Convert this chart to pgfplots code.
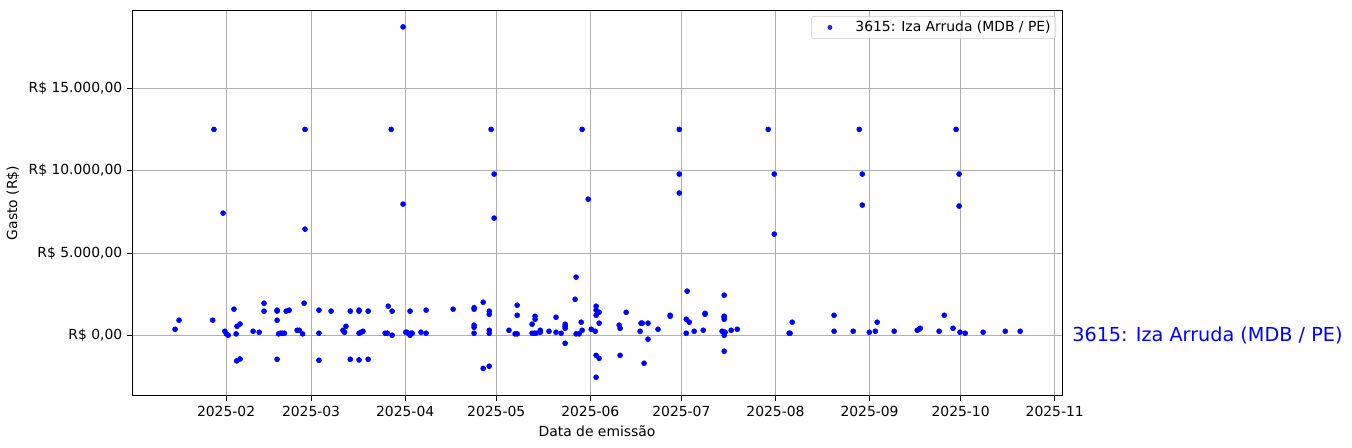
\documentclass[border=0pt]{standalone}
\usepackage{fontspec}
\setmainfont{DejaVu Sans}
\usepackage{pgfplots}
\pgfplotsset{compat=1.18}
\definecolor{gridgray}{HTML}{B0B0B0}
\definecolor{legframe}{HTML}{CCCCCC}
\definecolor{ptblue}{RGB}{0,0,255}
\begin{document}
\begin{tikzpicture}
\begin{axis}[
  name=ax,
  scale only axis,
  width=669.6pt, height=277.9pt,
  xmin=0, xmax=306.4, ymin=-3665, ymax=19739,
  axis line style={line width=0.7pt, black},
  every tick/.style={line width=0.7pt, black},
  tick align=outside, major tick length=3.5pt,
  tick pos=left,
  xtick={31,59,90,120,151,181,212,243,273,304},
  xticklabels={2025-02,2025-03,2025-04,2025-05,2025-06,2025-07,2025-08,2025-09,2025-10,2025-11},
  ytick={0,5000,10000,15000},
  yticklabels={{R\$ 0,00},{R\$ 5.000,00},{R\$ 10.000,00},{R\$ 15.000,00}},
  grid=major, major grid style={line width=0.8pt, color=gridgray},
  xlabel={Data de emissão}, ylabel={Gasto (R\$)},
  tick label style={font=\fontsize{10}{12}\selectfont},
  label style={font=\fontsize{10}{12}\selectfont},
  clip=false,
  legend style={at={(1,1)}, xshift=-4.3pt, yshift=-4.3pt, anchor=north east,
    draw=legframe, rounded corners=2pt, fill=white, fill opacity=0.8, text opacity=1,
    font=\fontsize{10}{12}\selectfont, inner xsep=1.7pt, inner ysep=1.5pt},
  legend cell align=left,
  legend image code/.code={\path (0pt,0pt) (27.7pt,0pt);
    \draw[only marks, mark=*, mark size=1.5pt, mark options={draw=none, fill=ptblue}] plot coordinates {(11.5pt,0pt)};},
]
\addplot[only marks, mark=*, mark size=1.8pt, color=ptblue, mark options={draw=none, fill=ptblue}] table[row sep=\\] {
x y\\
89.3 18714\\ 27.0 12500\\ 57.0 12500\\ 85.4 12500\\ 30.0 7420\\ 57.0 6450\\ 89.3 7970\\
118.3 12500\\ 119.3 9790\\ 119.3 7120\\ 148.3 12500\\ 150.3 8270\\ 146.3 3540\\
180.3 12500\\ 180.3 9790\\ 180.3 8640\\ 209.6 12500\\ 211.6 9790\\ 211.6 6150\\
239.6 12500\\ 240.6 9790\\ 240.6 7910\\ 271.5 12500\\ 272.5 9790\\ 272.5 7850\\
14.2 380\\ 15.5 930\\ 26.6 930\\ 30.6 260\\ 31.1 100\\ 31.7 20\\ 33.6 1600\\ 34.3 100\\
34.6 560\\ 35.6 700\\ 34.5 -1540\\ 35.6 -1420\\ 39.9 260\\ 41.9 200\\ 43.5 1960\\ 43.5 1480\\
47.8 930\\ 47.8 1540\\ 47.8 1480\\ 47.8 -1440\\ 48.3 100\\ 48.9 140\\ 49.5 140\\ 50.2 140\\
50.8 1480\\ 51.8 1540\\ 54.4 320\\ 55.1 320\\ 56.2 100\\ 56.7 1960\\ 61.6 1540\\ 61.6 140\\
61.6 -1500\\ 65.6 1480\\ 69.5 320\\ 70.0 200\\ 70.5 560\\ 71.9 1480\\ 71.9 -1440\\
74.8 1540\\ 74.8 1480\\ 74.8 140\\ 75.5 200\\ 76.1 260\\ 74.8 -1480\\ 77.8 1480\\ 77.8 -1440\\
83.4 140\\ 84.1 140\\ 84.4 1780\\ 85.7 1480\\ 85.7 20\\ 90.2 200\\ 90.6 200\\ 91.0 140\\
91.9 140\\ 92.3 140\\ 91.6 20\\ 91.6 1480\\ 95.2 200\\ 96.9 140\\ 96.9 1540\\ 105.8 1600\\
112.7 1690\\ 112.7 1600\\ 112.7 630\\ 112.7 500\\ 112.7 140\\ 115.7 2020\\ 115.7 -1990\\
117.7 1480\\ 117.7 1290\\ 117.7 320\\ 117.7 140\\ 117.7 -1860\\ 124.2 320\\ 126.2 100\\
126.9 100\\ 126.9 1840\\ 126.9 1230\\ 131.8 690\\ 131.8 140\\ 132.5 140\\ 133.1 140\\
132.8 1170\\ 132.8 990\\ 134.5 320\\ 134.5 200\\ 137.4 260\\ 139.7 1110\\ 139.7 200\\
141.4 140\\ 142.7 690\\ 142.7 560\\ 142.7 440\\ 142.7 -470\\ 146.0 2200\\ 146.3 100\\
147.3 100\\ 148.0 810\\ 148.3 320\\
151.3 380\\ 152.6 260\\ 152.9 1780\\ 152.9 1540\\ 152.9 1230\\ 153.9 1410\\ 153.9 750\\
152.9 -1200\\ 153.9 -1380\\ 152.9 -2530\\ 160.5 630\\ 160.8 440\\ 160.8 -1200\\ 162.8 1410\\
167.4 260\\ 167.7 750\\ 168.1 750\\ 168.7 -1680\\ 170.0 750\\ 170.0 -220\\ 173.3 380\\
177.3 1230\\ 177.3 1170\\ 182.6 990\\ 182.6 140\\ 182.9 2690\\ 183.6 810\\ 185.2 260\\
188.2 320\\ 188.8 1350\\ 188.8 1290\\ 194.4 260\\ 195.1 200\\ 195.4 200\\ 195.1 20\\
195.1 2450\\ 195.1 1170\\ 195.1 1110\\ 195.1 990\\ 195.1 -950\\ 197.4 320\\ 199.4 380\\
216.5 140\\ 216.8 140\\ 217.5 810\\
231.3 1230\\ 231.3 260\\ 237.6 260\\ 242.9 200\\ 244.9 260\\ 245.5 810\\ 251.1 260\\
258.7 320\\ 259.3 380\\ 259.7 440\\ 265.9 260\\ 267.6 1230\\ 270.5 440\\ 272.8 200\\
274.5 140\\ 280.4 200\\ 287.7 260\\ 292.6 260\\
};
\addlegendentry{3615: Iza Arruda (MDB / PE)}
\node[anchor=west, inner sep=0pt, text=ptblue, font=\fontsize{13.85}{16}\selectfont] at (axis cs:306.4,0) [xshift=7.2pt] {3615: Iza Arruda (MDB / PE)};
\end{axis}
\pgfresetboundingbox
\path[use as bounding box] ([xshift=-95.04pt, yshift=-37.44pt]ax.south west) rectangle ([xshift=208.8pt, yshift=7.2pt]ax.north east);
\end{tikzpicture}
\end{document}
